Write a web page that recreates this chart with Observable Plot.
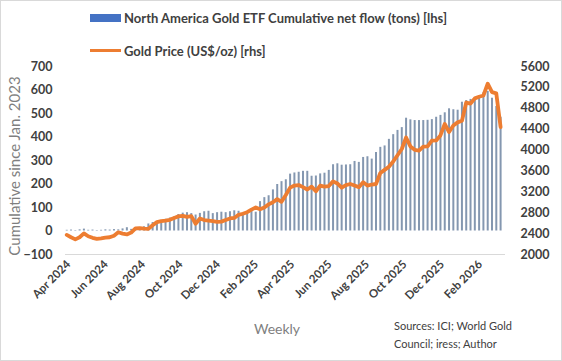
<!DOCTYPE html>
<html>
<head>
<meta charset="utf-8">
<script src="https://cdn.jsdelivr.net/npm/d3@7"></script>
<script src="https://cdn.jsdelivr.net/npm/@observablehq/plot@0.6"></script>
<style>
  body { margin: 0; background: #fff; }
  #wrap { position: relative; width: 562px; height: 361px; font-family: Lato, "Open Sans", sans-serif; overflow: hidden; background: #fff; }
  #frame { position: absolute; left: 0; top: 0; width: 562px; height: 361px; box-sizing: border-box; border: 1px solid #d9d9d9; pointer-events: none; }
  #legend { position: relative; height: 58px; }
  .lg-text { position: absolute; left: 124px; font-weight: bold; font-size: 13px; color: #404040; white-space: nowrap; transform: translateY(-50%); }
  .sw { position: absolute; left: 90px; }
  #chart svg { display: block; }
  #ytitle { position: absolute; left: 14px; top: 166px; transform: translate(-50%, -50%) rotate(-90deg); font-size: 15px; color: #7f7f7f; white-space: nowrap; }
  #xtitle { position: absolute; left: 277px; top: 328px; transform: translate(-50%, -50%); font-size: 14px; color: #7f7f7f; }
  #source { position: absolute; left: 394px; top: 317px; font-size: 11px; line-height: 18px; color: #404040; white-space: nowrap; }
</style>
</head>
<body>
<div id="wrap">
  <div id="legend">
    <div class="sw" style="top:14px;width:31px;height:8px;background:#4472c4"></div>
    <div class="lg-text" style="top:18px">North America Gold ETF Cumulative net flow (tons) [lhs]</div>
    <div class="sw" style="top:49px;width:31px;height:3px;background:#ed7d31"></div>
    <div class="lg-text" style="top:51px">Gold Price (US$/oz) [rhs]</div>
  </div>
  <div id="chart"></div>
  <div id="ytitle">Cumulative since Jan. 2023</div>
  <div id="xtitle">Weekly</div>
  <div id="source">Sources: ICI; World Gold<br>Council; iress; Author</div>
  <div id="frame"></div>
</div>
<script>
// Weekly observations (Fridays), first week
const firstWeek = "2024-03-29";
// North America gold ETF cumulative net flow since Jan 2023 (tons), left axis
const flow = [3,4,2,5,8,3,4,2,3,5,4,6,5,9,14,7,10,12,18,
  30,36,38,44,50,55,60,70,76,78,74,68,75,
  82,84,74,78,80,78,82,86,84,76,80,86,80,
  125,142,150,175,198,210,218,242,247,250,254,254,233,234,243,246,258,282,
  286,280,281,282,296,292,313,316,306,334,356,362,390,410,428,440,480,473,
  470,470,470,471,474,484,492,503,520,516,514,548,555,560,568,576,588,594,565,530,484];
// Gold price (US$/oz), right axis
const gold = [2375,2330,2290,2330,2405,2350,2320,2300,2310,2325,2330,2360,2425,2400,2385,2420,2500,2505,2495,
  2490,2560,2620,2640,2650,2665,2700,2730,2740,2720,2735,2590,2690,
  2660,2650,2640,2625,2630,2660,2690,2700,2760,2780,2810,2860,2900,
  2865,2900,2960,3000,3060,3010,3140,3280,3320,3330,3290,3245,3300,3210,3320,3300,3310,3400,
  3360,3280,3330,3350,3320,3290,3385,3320,3340,3350,3560,3620,3680,3780,3900,4020,4240,4070,
  4005,3990,4065,4070,4180,4185,4280,4500,4345,4470,4530,4560,4910,4890,4990,5020,5045,5270,5110,5085,4440];
// Axis ticks
const leftTicks = [-100,0,100,200,300,400,500,600,700];
const rightTicks = [2000,2400,2800,3200,3600,4000,4400,4800,5200,5600];
const xTickDates = ["2024-04-01","2024-06-01","2024-08-01","2024-10-01","2024-12-01","2025-02-01",
  "2025-04-01","2025-06-01","2025-08-01","2025-10-01","2025-12-01","2026-02-01"];

const start = new Date(firstWeek + "T00:00:00Z");
const data = flow.map((v, i) => ({date: d3.utcDay.offset(start, 7 * i), flow: v, gold: gold[i]}));

const L0 = -100, L1 = 700, R0 = 2000, R1 = 5600;
const toLeft = p => L0 + (p - R0) * (L1 - L0) / (R1 - R0);
const fromLeft = v => R0 + (v - L0) * (R1 - R0) / (L1 - L0);

const chart = Plot.plot({
  width: 562,
  height: 303,
  marginTop: 8,
  marginBottom: 107,
  marginLeft: 65,
  marginRight: 57,
  style: {fontFamily: "Lato, sans-serif", color: "#404040", background: "transparent"},
  x: {type: "utc", domain: [new Date("2024-03-27T00:00:00Z"), new Date("2026-03-14T00:00:00Z")]},
  y: {domain: [L0, L1]},
  marks: [
    Plot.ruleY([-100], {stroke: "#d9d9d9", strokeWidth: 1}),
    Plot.ruleX(data, {x: "date", y1: 0, y2: "flow", stroke: "#8497b0", strokeWidth: 2}),
    Plot.lineY(data, {x: "date", y: d => toLeft(d.gold), stroke: "#ed7d31", strokeWidth: 3.8, strokeLinejoin: "round", strokeLinecap: "round"}),
    Plot.axisY(leftTicks, {anchor: "left", tickSize: 0, tickPadding: 13, label: null, fontWeight: "bold", fontSize: 12.5}),
    Plot.axisY(rightTicks.map(toLeft), {anchor: "right", tickSize: 0, tickPadding: 15, label: null, fontWeight: "bold", fontSize: 12.5,
      tickFormat: v => String(Math.round(fromLeft(v)))}),
    Plot.axisX(xTickDates.map(s => new Date(s + "T00:00:00Z")), {anchor: "bottom", tickSize: 0, tickPadding: 8, tickRotate: -45,
      label: null, fontWeight: "bold", fontSize: 11.5, tickFormat: d3.utcFormat("%b %Y")})
  ]
});
document.getElementById("chart").appendChild(chart);
</script>
</body>
</html>
